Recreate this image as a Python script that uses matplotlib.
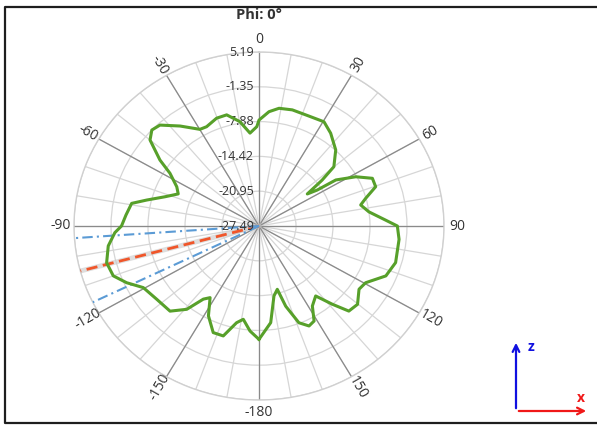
import numpy as np
import matplotlib
matplotlib.use("Agg")
import matplotlib.pyplot as plt
from matplotlib import transforms
from matplotlib.lines import Line2D
from matplotlib.patches import FancyArrowPatch

plt.rcParams['font.family'] = ['Open Sans', 'DejaVu Sans']

# ----------------------------------------------------------
# data (angle in deg, gain in dB)
# ----------------------------------------------------------
angles_deg = [-180, -175.4, -171, -167.7, -163, -158, -152.1, -147.3, -144.4, -140.8,
              -135.5, -127.3, -119.5, -114.5, -110, -104.4, -98, -92.8, -90, -85,
              -79.3, -76.2, -71.7, -67.1, -63.1, -57.8, -54.7, -50, -46.4, -42.7,
              -36.6, -29.9, -26.4, -20.3, -15.3, -9.8, -5.2, -1.2, 0, 4.7,
              9.1, 15.1, 23.1, 30.4, 36, 43.5, 49.9, 52.3, 54.8, 56.7,
              57.5, 61.6, 65.9, 70.3, 74.6, 77.6, 82.2, 87.2, 90, 95.8,
              105.9, 112.7, 119.5, 123.9, 130.2, 135.2, 138.6, 142.7, 147.9, 151.4,
              154.8, 158.8, 162.6, 164.8, 168.6, 173.5, 180]
gain_db = [-6.2, -7.7, -9.75, -8.9, -5.9, -5.9, -8.4, -11.5, -10.6, -7.3,
           -5.07, -4.78, -4.0, -1.8, -0.1, 0.3, -0.6, -2.0, -3.2, -3.9,
           -4.6, -7.06, -10.0, -12.0, -11.2, -8.9, -6.05, -2.36, -1.35, -1.7,
           -4.1, -6.55, -6.67, -5.9, -5.85, -7.6, -9.97, -8.83, -7.6, -5.95,
           -5.1, -4.9, -5.04, -4.8, -5.95, -7.8, -10.2, -13.4, -17.05, -15.2,
           -11.4, -8.05, -5.55, -5.6, -7.95, -9.1, -7.9, -5.08, -3.05, -2.62,
           -2.4, -3.2, -5.85, -6.2, -4.7, -4.97, -7.9, -10.97, -9.75, -7.16,
           -6.74, -8.0, -11.7, -15.17, -14.1, -9.22, -6.2]

r_min, r_max = -27.49, 5.19
ring_values = [-27.49, -20.95, -14.42, -7.88, -1.35, 5.19]
ring_labels = ["-27.49", "-20.95", "-14.42", "-7.88", "-1.35", "5.19"]
angle_labels = [0, 30, 60, 90, 120, 150, -180, -150, -120, -90, -60, -30]

beam_center = -105
beam_edges = [-94, -116]

# ----------------------------------------------------------
# figure
# ----------------------------------------------------------
fig = plt.figure(figsize=(5.97, 4.25), dpi=100)
W, H = 597.0, 425.0
ax = fig.add_axes([74 / W, 1 - 400 / H, 370 / W, 348 / H], projection='polar')
ax.set_aspect('auto')
ax.set_theta_zero_location('N')
ax.set_theta_direction(-1)
ax.set_ylim(r_min, r_max)

ax.set_xticks(np.deg2rad(np.arange(0, 360, 10)))
ax.set_xticklabels([])
ax.set_yticks(ring_values[1:])
ax.set_yticklabels([])
ax.grid(color='#d6d6d6', lw=0.9)
ax.spines['polar'].set_color('#d0d0d0')
ax.spines['polar'].set_linewidth(1.0)

# darker spokes every 30 deg
for a in range(0, 360, 30):
    ax.plot([np.deg2rad(a)] * 2, [r_min, r_max], color='#8a8a8a', lw=0.9, zorder=2)

# ring labels along the 0 deg spoke
off = transforms.offset_copy(ax.transData, fig=fig, x=-5, y=0, units='dots')
for v, lab in zip(ring_values, ring_labels):
    ax.text(0, v, lab, transform=off, ha='right', va='center',
            fontsize=9, color='#333333', zorder=5)

# angle labels, rotated along the spoke
r_lab = r_min + 1.07 * (r_max - r_min)
for a in angle_labels:
    rot = 90 - a
    while rot > 90:
        rot -= 180
    while rot <= -90:
        rot += 180
    if a in (0, -180, 90, -90):
        rot = 0
    ax.text(np.deg2rad(a), r_lab, str(a), ha='center', va='center',
            rotation=rot, rotation_mode='anchor', fontsize=10, color='#333333')

# beam direction lines
th = np.deg2rad(beam_center)
ax.plot([th, th], [r_min, r_max], color='#c8c8c8', lw=3.5, alpha=0.6, zorder=3)
ax.plot([th, th], [r_min, r_max], color='#f0562a', lw=2, ls=(0, (4, 2)), zorder=4)
for e in beam_edges:
    ax.plot([np.deg2rad(e)] * 2, [r_min, r_max], color='#5b9bd5', lw=1.5,
            ls=(0, (5, 2, 1, 2)), zorder=4)

# radiation pattern
ax.plot(np.deg2rad(angles_deg), gain_db, color='#57a02a', lw=2.2, zorder=6,
        solid_joinstyle='round')

# title
fig.text(259 / W, 1 - 15 / H, 'Phi: 0°', ha='center', va='center',
         fontsize=10.5, fontweight='bold', color='#333333')

# frame (top, left, bottom)
frame = Line2D([597 / W, 5 / W, 5 / W, 597 / W], [1 - 7 / H, 1 - 7 / H, 1 - 423 / H, 1 - 423 / H],
               transform=fig.transFigure, color='#1e1e1e', lw=1.6)
fig.add_artist(frame)

# coordinate triad
ox, oy = 516 / W, 1 - 411 / H
fig.add_artist(FancyArrowPatch((ox, oy), (516 / W, 1 - 340 / H), transform=fig.transFigure,
                               arrowstyle='->', mutation_scale=12, color='#1010e0', lw=1.6))
fig.add_artist(FancyArrowPatch((ox, oy), (589 / W, oy), transform=fig.transFigure,
                               arrowstyle='->', mutation_scale=12, color='#f01818', lw=1.6))
fig.text(531 / W, 1 - 347 / H, 'z', ha='center', va='center', fontsize=10,
         fontweight='bold', color='#1010e0')
fig.text(581 / W, 1 - 398 / H, 'x', ha='center', va='center', fontsize=10,
         fontweight='bold', color='#f01818')

fig.savefig('out.png', dpi=100)
